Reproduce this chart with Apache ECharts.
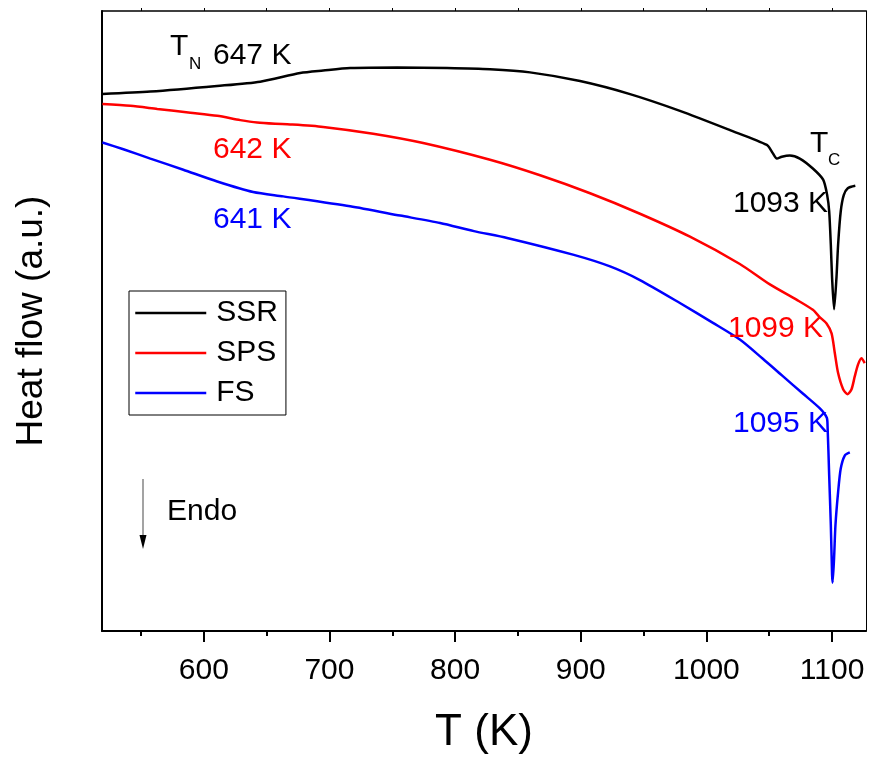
<!DOCTYPE html>
<html>
<head>
    <meta charset="utf-8" />
    <title>DSC heat flow</title>
    <script src="https://cdn.jsdelivr.net/npm/echarts@6/dist/echarts.min.js"></script>
    <style>
        html, body { margin: 0; padding: 0; background: #fff; }
        #chart { width: 869px; height: 760px; }
    </style>
</head>
<body>
    <div id="chart"></div>
    <script>
        // temperature range of the plot (K)
        var tMin = 519;
        var tMax = 1127;

        // tick values on the T axis
        var majorTicks = [600, 700, 800, 900, 1000, 1100];
        var minorTicks = [550, 650, 750, 850, 950, 1050];
        var topTicks = [550, 600, 650, 700, 750, 800, 850, 900, 950, 1000, 1050, 1100];

        var seriesNames = ['SSR', 'SPS', 'FS'];
        var seriesColors = ['#000000', '#ff0000', '#0000ff'];

        // heat flow (a.u.), [T, value]
        var ssr = [
            [519.3, 86.6], [557.5, 87.0], [610.5, 87.9], [644.9, 88.6], [676.7, 90.0],
            [695.0, 90.4], [716.5, 90.8], [753.9, 90.9], [793.6, 90.8], [827.8, 90.6],
            [859.6, 90.1], [899.4, 88.7], [939.2, 86.6], [978.9, 83.9], [1018.7, 80.8],
            [1048.1, 78.4], [1052.1, 77.3], [1056.1, 76.2], [1060.0, 76.5], [1066.4, 76.7],
            [1074.3, 76.2], [1084.7, 74.6], [1092.9, 72.8], [1096.1, 70.3], [1097.7, 67.7],
            [1099.0, 62.3], [1100.0, 57.0], [1101.6, 51.9], [1103.5, 57.0], [1104.8, 62.3],
            [1106.9, 67.7], [1109.3, 70.3], [1112.5, 71.4], [1118.5, 71.8]
        ];
        var sps = [
            [519.3, 85.0], [541.6, 84.7], [563.0, 84.2], [589.3, 83.6], [610.7, 83.1],
            [629.0, 82.4], [642.5, 82.0], [656.9, 81.8], [668.8, 81.7], [695.0, 81.3],
            [734.8, 80.2], [774.6, 78.7], [827.8, 76.0], [867.6, 73.5], [907.4, 70.6],
            [947.1, 67.3], [986.9, 63.6], [1026.6, 59.2], [1050.5, 55.9], [1072.0, 53.4],
            [1084.7, 51.8], [1090.3, 50.6], [1095.6, 49.6], [1099.6, 48.0], [1102.2, 44.8],
            [1104.8, 41.6], [1108.8, 39.0], [1112.3, 38.2], [1115.5, 39.0], [1118.1, 41.1],
            [1120.7, 43.0], [1123.4, 44.0], [1126.0, 43.2]
        ];
        var fs = [
            [519.3, 78.8], [536.0, 77.7], [557.5, 76.2], [583.7, 74.4], [610.7, 72.5],
            [639.3, 70.8], [663.2, 70.1], [716.5, 68.5], [756.3, 67.0], [788.1, 65.8],
            [815.0, 64.5], [841.4, 63.4], [893.8, 60.7], [923.3, 58.8], [947.1, 56.6],
            [978.9, 52.9], [1005.2, 49.7], [1026.6, 47.0], [1044.9, 43.9], [1060.8, 41.1],
            [1076.7, 38.3], [1090.3, 35.9], [1095.8, 34.4], [1096.4, 33.1], [1097.7, 25.1],
            [1099.0, 17.1], [1100.0, 9.1], [1100.4, 7.8], [1101.6, 11.8], [1102.7, 17.1],
            [1104.8, 22.4], [1106.9, 26.2], [1110.1, 28.3], [1114.1, 28.8]
        ];
        var seriesData = [ssr, sps, fs];

        var fontName = '"Liberation Sans", Arial, sans-serif';

        function label(text, x, y, color, size) {
            return {
                type: 'text', x: x, y: y, z: 10,
                style: {
                    text: text, fill: color, align: 'left', verticalAlign: 'middle',
                    font: (size || 30) + 'px ' + fontName
                }
            };
        }

        var chart = echarts.init(document.getElementById('chart'), null, { renderer: 'canvas' });

        var option = {
            animation: false,
            backgroundColor: '#fff',
            textStyle: { fontFamily: fontName },
            grid: { left: 102, right: 3, top: 11, bottom: 123 },
            legend: {
                orient: 'vertical',
                left: 129, top: 291,
                data: seriesNames,
                itemWidth: 71, itemHeight: 30, itemGap: 10,
                padding: [7, 8, 7, 5],
                borderColor: '#000', borderWidth: 1, borderRadius: 0,
                itemStyle: { opacity: 0 },
                lineStyle: { width: 2.5 },
                textStyle: { fontSize: 30, color: '#000', fontFamily: fontName, padding: [0, 0, 0, 5] }
            },
            xAxis: [
                {
                    type: 'value', position: 'bottom', min: tMin, max: tMax,
                    name: 'T (K)', nameLocation: 'middle', nameGap: 80,
                    nameTextStyle: { fontSize: 44, color: '#000', fontFamily: fontName },
                    axisLine: { lineStyle: { color: '#000', width: 2 } },
                    axisTick: { customValues: majorTicks, length: 11, lineStyle: { color: '#000', width: 2 } },
                    axisLabel: {
                        customValues: majorTicks, fontSize: 30, color: '#000', margin: 25, fontFamily: fontName,
                        formatter: function (v) { return String(v); }
                    },
                    splitLine: { show: false }
                },
                {
                    type: 'value', position: 'bottom', min: tMin, max: tMax,
                    axisLine: { show: false },
                    axisTick: { customValues: minorTicks, length: 5, lineStyle: { color: '#000', width: 2 } },
                    axisLabel: { show: false },
                    splitLine: { show: false }
                },
                {
                    type: 'value', position: 'top', min: tMin, max: tMax,
                    axisLine: { lineStyle: { color: '#000', width: 1.5 } },
                    axisTick: { customValues: topTicks, length: 3, lineStyle: { color: '#000', width: 1 } },
                    axisLabel: { show: false },
                    splitLine: { show: false }
                }
            ],
            yAxis: [
                {
                    type: 'value', position: 'left', min: 0, max: 100,
                    name: 'Heat flow (a.u.)', nameLocation: 'middle', nameGap: 52,
                    nameTextStyle: { fontSize: 37, color: '#000', fontFamily: fontName },
                    axisLine: { show: true, lineStyle: { color: '#000', width: 2 } },
                    axisTick: { show: false },
                    axisLabel: { show: false },
                    splitLine: { show: false }
                },
                {
                    type: 'value', position: 'right', min: 0, max: 100,
                    axisLine: { show: true, lineStyle: { color: '#000', width: 1 } },
                    axisTick: { show: false },
                    axisLabel: { show: false },
                    splitLine: { show: false }
                }
            ],
            series: seriesNames.map(function (name, i) {
                return {
                    name: name,
                    type: 'line',
                    xAxisIndex: 0,
                    yAxisIndex: 0,
                    data: seriesData[i],
                    symbol: 'none',
                    smooth: 0.25,
                    color: seriesColors[i],
                    lineStyle: { color: seriesColors[i], width: 2.5 }
                };
            }),
            graphic: [
                label('T', 170, 47, '#000'),
                label('N', 189, 64.5, '#000', 17),
                label('647 K', 213, 56, '#000'),
                label('642 K', 213, 150, '#ff0000'),
                label('641 K', 213, 219.5, '#0000ff'),
                label('T', 810, 143.5, '#000'),
                label('C', 828, 160, '#000', 17),
                label('1093 K', 733, 203.5, '#000'),
                label('1099 K', 728, 329, '#ff0000'),
                label('1095 K', 733, 423.5, '#0000ff'),
                label('Endo', 167, 512, '#000'),
                {
                    type: 'line', z: 10,
                    shape: { x1: 143, y1: 479, x2: 143, y2: 538 },
                    style: { stroke: '#666', lineWidth: 1.2 }
                },
                {
                    type: 'polygon', z: 10,
                    shape: { points: [[139.5, 535], [146.5, 535], [143, 549]] },
                    style: { fill: '#000' }
                }
            ]
        };

        chart.setOption(option);
    </script>
</body>
</html>
